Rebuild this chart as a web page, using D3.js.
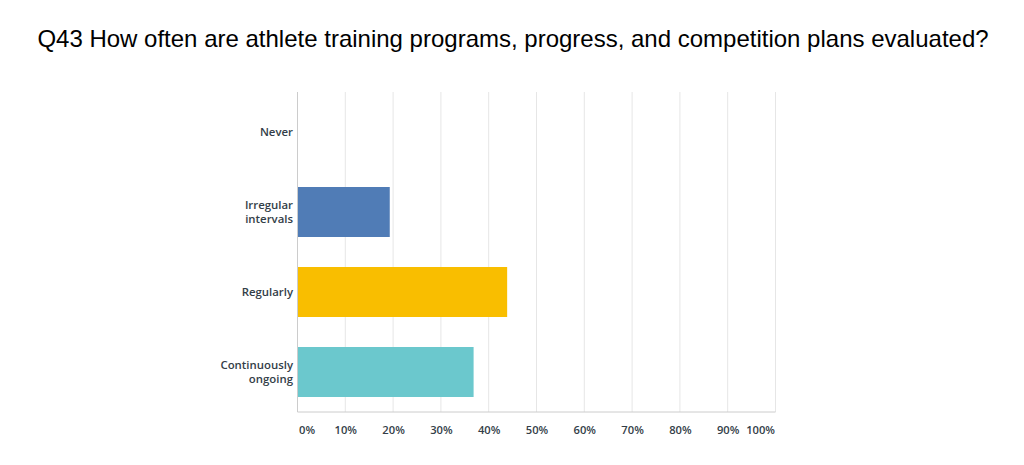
<!DOCTYPE html>
<html>
<head>
<meta charset="utf-8">
<script src="https://cdn.jsdelivr.net/npm/d3@7"></script>
<style>
  body { margin: 0; background: #fff; }
  svg { display: block; }
</style>
</head>
<body>
<script>
const title = 'Q43 How often are athlete training programs, progress, and competition plans evaluated?';
const categories = ['Never', 'Irregular intervals', 'Regularly', 'Continuously ongoing'];
const labelLines = [['Never'], ['Irregular', 'intervals'], ['Regularly'], ['Continuously', 'ongoing']];
const values = [0, 19.30, 43.86, 36.84];
const colors = ['#e05c41', '#507cb6', '#f9be00', '#6bc8cd'];
const xTicks = [0, 10, 20, 30, 40, 50, 60, 70, 80, 90, 100];

const w = 1024, h = 465;
const plotLeft = 297.5, plotRight = 775.5, plotTop = 92, plotBottom = 412;

const svg = d3.select('body').append('svg')
  .attr('width', w)
  .attr('height', h);

// title
svg.append('text')
  .attr('x', 513)
  .attr('y', 47)
  .attr('text-anchor', 'middle')
  .style('font-family', 'Liberation Sans, Arial, sans-serif')
  .style('font-size', '24px')
  .style('fill', '#000')
  .text(title);

const xScale = d3.scaleLinear().domain([0, 100]).range([plotLeft, plotRight]);
const yScale = d3.scaleBand().domain(categories).range([plotTop, plotBottom]).paddingInner(0.375).paddingOuter(0.1875);

// gridlines
svg.append('g')
  .selectAll('line')
  .data(xTicks.slice(1))
  .enter()
  .append('line')
  .attr('x1', (d) => xScale(d))
  .attr('x2', (d) => xScale(d))
  .attr('y1', plotTop)
  .attr('y2', plotBottom)
  .attr('stroke', '#e6e6e6')
  .attr('stroke-width', 1);

// bars
svg.append('g')
  .selectAll('rect')
  .data(values)
  .enter()
  .append('rect')
  .attr('x', xScale(0))
  .attr('y', (d, i) => yScale(categories[i]))
  .attr('width', (d) => xScale(d) - xScale(0))
  .attr('height', yScale.bandwidth())
  .attr('fill', (d, i) => colors[i]);

// axis lines
svg.append('line')
  .attr('x1', plotLeft).attr('x2', plotLeft)
  .attr('y1', plotTop).attr('y2', plotBottom)
  .attr('stroke', '#cccccc');
svg.append('line')
  .attr('x1', plotLeft).attr('x2', plotRight)
  .attr('y1', plotBottom).attr('y2', plotBottom)
  .attr('stroke', '#cccccc');

// x tick labels (first and last kept inside the plot, like the original)
const xAxis = d3.axisBottom(xScale)
  .tickValues(xTicks)
  .tickSize(0)
  .tickPadding(14)
  .tickFormat((d) => d + '%');
const gx = svg.append('g')
  .attr('transform', `translate(0, ${plotBottom})`)
  .call(xAxis);
gx.select('.domain').remove();
gx.selectAll('text')
  .style('font-family', '"Open Sans", Roboto, sans-serif')
  .style('font-size', '11.2px')
  .style('font-weight', '600')
  .style('fill', '#333e48')
  .attr('text-anchor', (d) => d === 0 ? 'start' : d === 100 ? 'end' : 'middle')
  .attr('x', (d) => d === 0 ? 1 : d === 100 ? -1 : 0);

// category labels
const gy = svg.append('g');
labelLines.forEach((lines, i) => {
  const cy = yScale(categories[i]) + yScale.bandwidth() / 2;
  const t = gy.append('text')
    .attr('x', 293)
    .attr('y', cy - (lines.length - 1) * 7)
    .attr('text-anchor', 'end')
    .style('font-family', '"Open Sans", Roboto, sans-serif')
    .style('font-size', '11.4px')
    .style('font-weight', '600')
    .style('fill', '#333e48');
  lines.forEach((ln, j) => {
    t.append('tspan')
      .attr('x', 293)
      .attr('dy', j === 0 ? '0.35em' : '14px')
      .text(ln);
  });
});
</script>
</body>
</html>
